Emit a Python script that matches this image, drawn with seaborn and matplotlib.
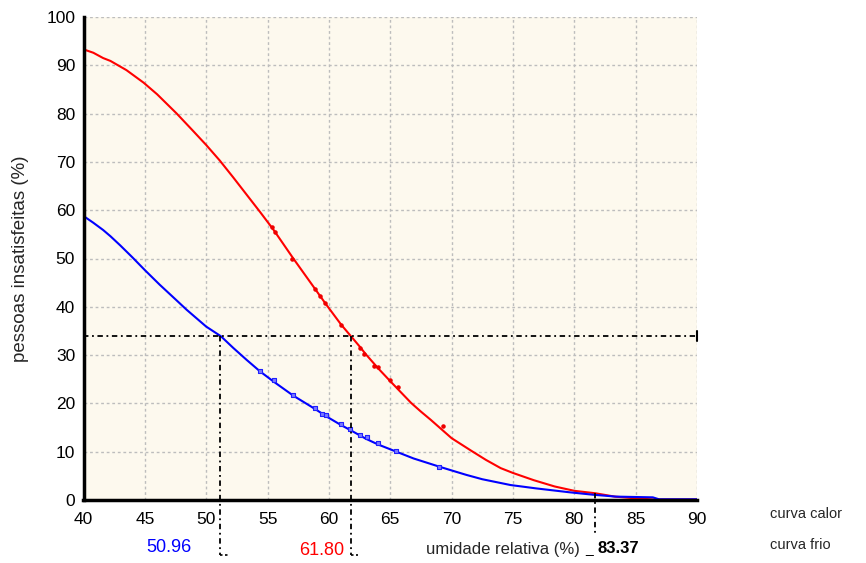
import matplotlib
matplotlib.use('Agg')
import matplotlib.pyplot as plt
import pandas as pd
import seaborn as sns
from matplotlib.ticker import MultipleLocator

# curve values
x_calor = [40.0, 40.8, 41.6, 42.2, 43.5, 44.9, 46.0, 47.6, 48.9, 50.0, 51.1, 52.2,
           53.3, 54.4, 55.5, 57.1, 58.9, 59.8, 61.0, 61.8, 62.5, 63.0, 64.0, 65.0,
           66.7, 67.5, 68.3, 70.0, 71.6, 72.8, 74.0, 75.0, 76.7, 78.4, 80.0, 81.7,
           83.3, 85.2, 86.6, 90.0]
y_calor = [93.3, 92.6, 91.5, 90.9, 89.0, 86.4, 84.0, 80.0, 76.5, 73.5, 70.3, 66.8,
           63.2, 59.6, 55.9, 50.0, 43.6, 40.4, 36.3, 33.9, 31.8, 30.2, 27.3, 24.6,
           20.1, 18.3, 16.6, 12.8, 10.2, 8.3, 6.6, 5.6, 4.1, 2.8, 1.9, 1.4,
           0.7, 0.3, 0.1, 0.1]

x_frio = [40.0, 40.8, 41.6, 42.2, 43.0, 44.0, 45.0, 46.2, 47.6, 48.4, 50.0, 51.2,
          52.2, 53.3, 54.4, 55.5, 57.1, 58.9, 59.8, 61.0, 61.8, 63.0, 64.0, 65.5,
          66.9, 69.0, 69.9, 71.2, 72.5, 74.8, 76.9, 79.6, 81.5, 83.4, 86.4, 86.9,
          90.0]
y_frio = [58.8, 57.4, 55.9, 54.6, 52.7, 50.2, 47.6, 44.6, 41.3, 39.4, 35.9, 33.9,
          31.5, 29.0, 26.6, 24.5, 21.6, 18.8, 17.3, 15.5, 14.4, 12.7, 11.5, 10.0,
          8.6, 6.9, 6.2, 5.2, 4.3, 3.1, 2.4, 1.6, 1.1, 0.7, 0.55, 0.15,
          0.15]

# scattered points sitting on the curves
pts_frio_x = [54.4, 55.5, 57.1, 58.9, 59.4, 59.8, 61.0, 61.7, 62.5, 63.1, 64.0, 65.5, 69.0]
pts_frio_y = [26.8, 24.8, 21.7, 19.0, 17.9, 17.5, 15.7, 14.7, 13.5, 13.0, 11.7, 10.2, 6.9]
pts_calor_x = [55.4, 55.6, 57.0, 58.9, 59.3, 59.7, 61.0, 62.5, 62.9, 63.7, 64.0, 65.0, 65.6, 69.3]
pts_calor_y = [56.5, 55.5, 50.0, 43.6, 42.3, 40.8, 36.3, 31.5, 30.2, 27.8, 27.6, 24.8, 23.4, 15.3]

# guide lines
nivel = 34
x_guias = [51.15, 61.8]
x_guia_cruz = 81.7
y_cruz = 1.4
labels_guias = ['50.96', '61.80', '83.37']

df_calor = pd.DataFrame({'x': x_calor, 'y': y_calor})
df_frio = pd.DataFrame({'x': x_frio, 'y': y_frio})

sns.set_style('white')
plt.rcParams['font.family'] = ['Liberation Sans', 'DejaVu Sans']

fig = plt.figure(figsize=(8.66, 5.63), dpi=100)
ax = fig.add_axes([83.5 / 866, 1 - 500 / 563, 613.5 / 866, 483 / 563])
ax.set_facecolor('#fdf9ee')

sns.lineplot(data=df_calor, x='x', y='y', color='#ff0000', lw=1.5, ax=ax, zorder=3)
sns.lineplot(data=df_frio, x='x', y='y', color='#0000ff', lw=1.5, ax=ax, zorder=3)
ax.scatter(pts_frio_x, pts_frio_y, marker='s', s=12, facecolor='#7a7aff',
           edgecolor='#2020ff', lw=0.8, zorder=4)
ax.scatter(pts_calor_x, pts_calor_y, marker='o', s=5, color='#ee0000', zorder=4)

ax.set_xlim(40, 90)
ax.set_ylim(0, 100)
ax.xaxis.set_major_locator(MultipleLocator(5))
ax.yaxis.set_major_locator(MultipleLocator(10))
ax.xaxis.set_minor_locator(MultipleLocator(1))
ax.yaxis.set_minor_locator(MultipleLocator(2))
ax.grid(True, which='major', color='#bdbdbd', ls=(0, (2, 2)), lw=1)
ax.tick_params(which='both', direction='in', length=4, width=1.5, colors='black',
               labelsize=12.5)
ax.tick_params(axis='x', pad=9)
ax.tick_params(axis='y', pad=6)
for s in ['top', 'right']:
    ax.spines[s].set_visible(False)
for s in ['left', 'bottom']:
    ax.spines[s].set_color('black')
    ax.spines[s].set_linewidth(2.5)
    ax.spines[s].set_zorder(5)

ax.set_ylabel('pessoas insatisfeitas (%)', fontsize=13.5)
ax.yaxis.set_label_coords(-0.089, 0.5)
ax.set_xlabel('umidade relativa (%)', fontsize=12)
ax.xaxis.set_label_coords(0.684, -0.086)

# dashed guides
dash = (0, (3, 2, 1, 2))
ax.plot([40, 90], [nivel, nivel], color='black', lw=1.3, ls=dash, zorder=6, clip_on=False)
ax.plot([90, 90], [nivel - 1, nivel + 1], color='black', lw=1.5, zorder=6, clip_on=False)
ax.plot([40.1, 40.1], [nivel, nivel + 1.3], color='black', lw=1.5, zorder=6, clip_on=False)
for xg in x_guias:
    ax.plot([xg, xg], [nivel, -11.3], color='black', lw=1.3, ls=dash, zorder=6, clip_on=False)
    ax.plot([xg, xg + 0.6], [-11.3, -11.3], color='black', lw=1.2, ls=(0, (1.5, 1.5)),
            clip_on=False)
ax.plot([x_guia_cruz, x_guia_cruz], [y_cruz, -7.5], color='black', lw=1.3, ls=dash,
        zorder=6, clip_on=False)

ax.text(47.0, -9.8, labels_guias[0], color='#0000ff', fontsize=13, ha='center', va='center')
ax.text(59.4, -10.4, labels_guias[1], color='#ff0000', fontsize=13, ha='center', va='center')
ax.text(81.2, -10.9, '_', color='black', fontsize=10, ha='center', va='baseline')
ax.text(83.6, -10.0, labels_guias[2], color='black', fontsize=12, fontweight='bold',
        ha='center', va='center')

fig.text(770 / 866, 1 - 514 / 563, 'curva calor', fontsize=10.5, va='center')
fig.text(770 / 866, 1 - 545 / 563, 'curva frio', fontsize=10.5, va='center')

fig.savefig('out.png', dpi=100)
